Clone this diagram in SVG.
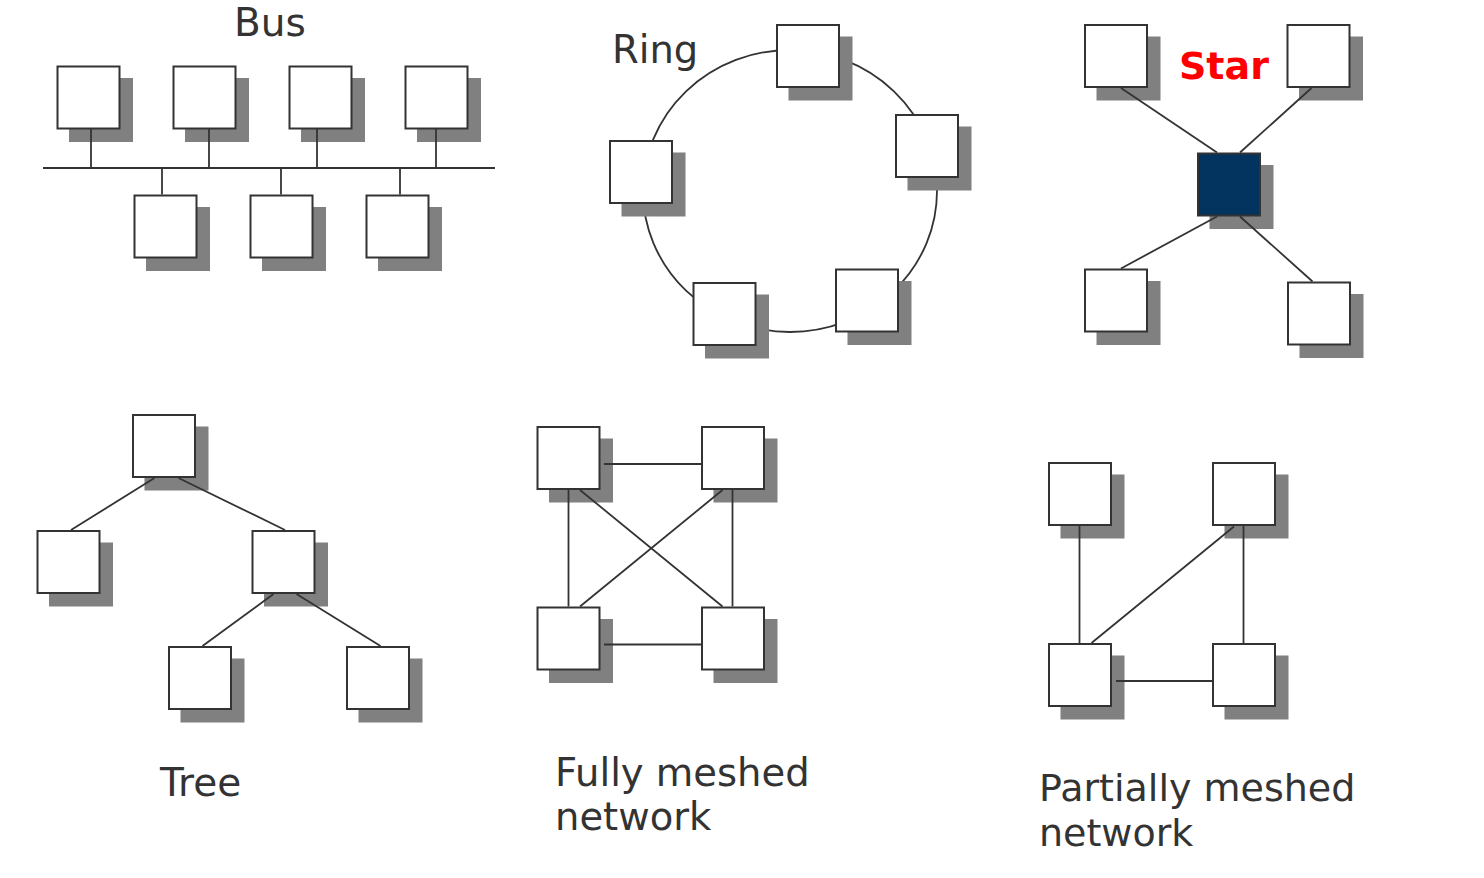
<svg xmlns="http://www.w3.org/2000/svg" xmlns:xlink="http://www.w3.org/1999/xlink" width="1484" height="878" viewBox="0 0 1484 878">
<style>
.sh{fill:#808080}
.bx{fill:#ffffff;stroke:#333333;stroke-width:2}
.hub{fill:#03335f;stroke:#333333;stroke-width:2}
.ln{stroke:#333333;stroke-width:1.8;fill:none}
.t{font-family:"DejaVu Sans","Verdana",sans-serif;font-size:38.5px;fill:#333333}
.star{font-family:"DejaVu Sans","Verdana",sans-serif;font-size:38px;font-weight:bold;fill:#ff0000}
</style>
<defs>
<g id="node"><rect class="sh" x="11.5" y="11.5" width="64" height="64"/><rect class="bx" x="0" y="0" width="62" height="62"/></g>
<g id="hubnode"><rect class="sh" x="11.5" y="11.5" width="64" height="64"/><rect class="hub" x="0" y="0" width="62" height="62"/></g>
</defs>
<rect width="1484" height="878" fill="#ffffff"/>

<!-- Ring connector drawn beneath nodes -->
<g id="ring-connectors">
<ellipse class="ln" cx="790" cy="191" rx="147" ry="141"/>
</g>

<!-- Bus -->
<text class="t" x="234" y="36" style="font-size:39px">Bus</text>
<g id="bus-n1"><use xlink:href="#node" x="57.5" y="66.5"/></g>
<g id="bus-n2"><use xlink:href="#node" x="173.5" y="66.5"/></g>
<g id="bus-n3"><use xlink:href="#node" x="289.5" y="66.5"/></g>
<g id="bus-n4"><use xlink:href="#node" x="405.5" y="66.5"/></g>
<g id="bus-n5"><use xlink:href="#node" x="134.5" y="195.5"/></g>
<g id="bus-n6"><use xlink:href="#node" x="250.5" y="195.5"/></g>
<g id="bus-n7"><use xlink:href="#node" x="366.5" y="195.5"/></g>

<!-- Ring -->
<text class="t" x="612" y="63">Ring</text>
<g id="ring-n1"><use xlink:href="#node" x="777" y="25"/></g>
<g id="ring-n2"><use xlink:href="#node" x="896" y="115"/></g>
<g id="ring-n3"><use xlink:href="#node" x="610" y="141"/></g>
<g id="ring-n4"><use xlink:href="#node" x="693.5" y="283"/></g>
<g id="ring-n5"><use xlink:href="#node" x="836" y="269.5"/></g>

<!-- Star -->
<text class="star" x="1179" y="79">Star</text>
<g id="star-n1"><use xlink:href="#node" x="1085" y="25"/></g>
<g id="star-n2"><use xlink:href="#node" x="1287.5" y="25"/></g>
<g id="star-hub"><use xlink:href="#hubnode" x="1198" y="153.5"/></g>
<g id="star-n3"><use xlink:href="#node" x="1085" y="269.5"/></g>
<g id="star-n4"><use xlink:href="#node" x="1288" y="282.5"/></g>

<!-- Tree -->
<text class="t" x="160" y="796" style="font-size:39px">Tree</text>
<g id="tree-n1"><use xlink:href="#node" x="133" y="415"/></g>
<g id="tree-n2"><use xlink:href="#node" x="37.5" y="531"/></g>
<g id="tree-n3"><use xlink:href="#node" x="252.5" y="531"/></g>
<g id="tree-n4"><use xlink:href="#node" x="169" y="647"/></g>
<g id="tree-n5"><use xlink:href="#node" x="347" y="647"/></g>

<!-- Fully meshed -->
<text class="t" x="555" y="785.5">Fully meshed</text>
<text class="t" x="555" y="830">network</text>
<g id="full-n1"><use xlink:href="#node" x="537.5" y="427"/></g>
<g id="full-n2"><use xlink:href="#node" x="702" y="427"/></g>
<g id="full-n3"><use xlink:href="#node" x="537.5" y="607.5"/></g>
<g id="full-n4"><use xlink:href="#node" x="702" y="607.5"/></g>

<!-- Partially meshed -->
<text class="t" x="1039" y="801" style="font-size:38px">Partially meshed</text>
<text class="t" x="1039" y="846" style="font-size:38px">network</text>
<g id="part-n1"><use xlink:href="#node" x="1049" y="463"/></g>
<g id="part-n2"><use xlink:href="#node" x="1213" y="463"/></g>
<g id="part-n3"><use xlink:href="#node" x="1049" y="644"/></g>
<g id="part-n4"><use xlink:href="#node" x="1213" y="644"/></g>

<g id="connectors">
<!-- bus -->
<line class="ln" x1="43" y1="168" x2="495" y2="168"/>
<line class="ln" x1="91" y1="129" x2="91" y2="168"/>
<line class="ln" x1="209" y1="129" x2="209" y2="168"/>
<line class="ln" x1="317" y1="129" x2="317" y2="168"/>
<line class="ln" x1="436" y1="129" x2="436" y2="168"/>
<line class="ln" x1="162" y1="168" x2="162" y2="194.5"/>
<line class="ln" x1="281" y1="168" x2="281" y2="194.5"/>
<line class="ln" x1="400" y1="168" x2="400" y2="194.5"/>
<!-- star -->
<line class="ln" x1="1121" y1="88" x2="1217" y2="152.5"/>
<line class="ln" x1="1311.5" y1="88" x2="1240" y2="152.5"/>
<line class="ln" x1="1121" y1="268.5" x2="1217" y2="216.5"/>
<line class="ln" x1="1312.5" y1="281.5" x2="1240" y2="216.5"/>
<!-- tree -->
<line class="ln" x1="154.5" y1="478" x2="71" y2="530"/>
<line class="ln" x1="178.5" y1="478" x2="285" y2="530"/>
<line class="ln" x1="273.5" y1="594" x2="202.5" y2="646"/>
<line class="ln" x1="296.5" y1="594" x2="380.5" y2="646"/>
<!-- fully meshed -->
<line class="ln" x1="604" y1="464" x2="701" y2="464"/>
<line class="ln" x1="604" y1="644.5" x2="701" y2="644.5"/>
<line class="ln" x1="568.5" y1="490" x2="568.5" y2="606.5"/>
<line class="ln" x1="732.5" y1="490" x2="732.5" y2="606.5"/>
<line class="ln" x1="580" y1="490" x2="722.5" y2="606.5"/>
<line class="ln" x1="722.5" y1="490" x2="580" y2="606.5"/>
<!-- partially meshed -->
<line class="ln" x1="1079.5" y1="526" x2="1079.5" y2="643"/>
<line class="ln" x1="1243.5" y1="526" x2="1243.5" y2="643"/>
<line class="ln" x1="1234" y1="526.5" x2="1091.5" y2="643"/>
<line class="ln" x1="1116" y1="681" x2="1212" y2="681"/>
</g>
</svg>
